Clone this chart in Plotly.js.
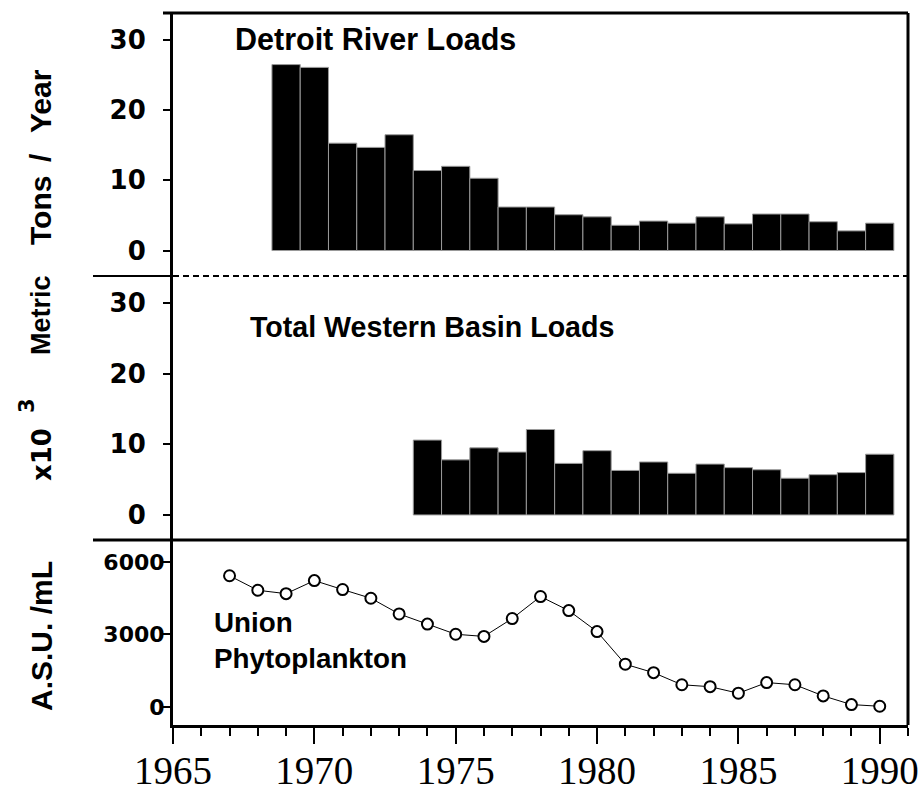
<!DOCTYPE html>
<html>
<head>
<meta charset="utf-8">
<script src="https://cdn.plot.ly/plotly-3.0.1.min.js"></script>
<style>html,body{margin:0;padding:0;background:#fff;}#chart{width:922px;height:794px;}</style>
</head>
<body>
<div id="chart"></div>
<script>
// ---- data ----
const detroitYears = [1969,1970,1971,1972,1973,1974,1975,1976,1977,1978,1979,1980,1981,1982,1983,1984,1985,1986,1987,1988,1989,1990];
const detroitLoads = [26.5,26.1,15.3,14.7,16.5,11.4,12.0,10.3,6.2,6.2,5.1,4.8,3.6,4.2,3.9,4.8,3.8,5.2,5.2,4.1,2.8,3.9];

const basinYears = [1974,1975,1976,1977,1978,1979,1980,1981,1982,1983,1984,1985,1986,1987,1988,1989,1990];
const basinLoads = [10.6,7.8,9.5,8.9,12.1,7.3,9.1,6.3,7.5,5.9,7.2,6.7,6.4,5.2,5.7,6.0,8.6];

const phytoYears = [1967,1968,1969,1970,1971,1972,1973,1974,1975,1976,1977,1978,1979,1980,1981,1982,1983,1984,1985,1986,1987,1988,1989,1990];
const phytoASU  = [5430,4830,4690,5230,4860,4500,3850,3430,3010,2920,3660,4570,3990,3120,1770,1420,920,840,570,1010,920,460,100,30];

const loadTicks = [0,10,20,30];
const asuTicks = [0,3000,6000];
const yearTicks = [1965,1970,1975,1980,1985,1990];

// ---- geometry helpers (plot area in pixels) ----
const W = 922, H = 794;
const M = {l:173, r:14, t:13, b:69};
const PW = W - M.l - M.r, PH = H - M.t - M.b;
const px = x => (x - M.l) / PW;
const py = y => (H - M.b - y) / PH;

const traces = [
  {type:'bar', x:detroitYears, y:detroitLoads, width:1, xaxis:'x', yaxis:'y',
   marker:{color:'#000', line:{color:'#9a9a9a', width:1}}},
  {type:'bar', x:basinYears, y:basinLoads, width:1, xaxis:'x', yaxis:'y2',
   marker:{color:'#000', line:{color:'#9a9a9a', width:1}}},
  {type:'scatter', mode:'lines+markers', x:phytoYears, y:phytoASU, xaxis:'x', yaxis:'y3',
   line:{color:'#000', width:1},
   marker:{symbol:'circle', size:11, color:'#fff', line:{color:'#000', width:2}}}
];

const yCommon = {
  showline:true, linecolor:'#000', linewidth:3, ticks:'outside', ticklen:7, tickwidth:2,
  tickcolor:'#000', showgrid:false, zeroline:false, fixedrange:true
};
const bigTick = {family:'DejaVu Sans', size:26, color:'#000', weight:'bold'};
const smallTick = {family:'DejaVu Sans', size:22, color:'#000', weight:'bold'};
const tf = s => ({family:'Liberation Sans', size:s, color:'#000'});

function vlab(text, x, y, size, family) {
  return {xref:'paper', yref:'paper', x:px(x), y:py(y), xanchor:'center', yanchor:'middle', showarrow:false,
          textangle:-90, text:'<b>' + text + '</b>', font:{family:family || 'Liberation Sans', size:size, color:'#000'}};
}

const layout = {
  width:W, height:H, margin:M, showlegend:false, bargap:0,
  paper_bgcolor:'#fff', plot_bgcolor:'#fff',
  xaxis:{anchor:'y3', range:[1965,1991], tickmode:'array', tickvals:yearTicks, ticktext:yearTicks.map(String),
         showline:true, linecolor:'#000', linewidth:3, ticks:'outside', ticklen:16, tickwidth:2, tickcolor:'#000',
         minor:{dtick:1, tick0:1965, ticks:'outside', ticklen:8, tickwidth:2, tickcolor:'#000'},
         showgrid:false, zeroline:false,
         tickfont:{family:'Liberation Serif', size:39, color:'#000'}, ticklabelstandoff:-7},
  yaxis:Object.assign({}, yCommon, {domain:[py(276), 1], range:[-3.63, 33.85], tickvals:loadTicks, tickfont:bigTick, ticklabelstandoff:12}),
  yaxis2:Object.assign({}, yCommon, {domain:[py(540), py(276)], range:[-3.55, 33.84], tickvals:loadTicks, tickfont:bigTick, ticklabelstandoff:12}),
  yaxis3:Object.assign({}, yCommon, {domain:[0, py(540)], range:[-745, 6910], tickvals:asuTicks, tickfont:smallTick, ticklabelstandoff:-6}),
  shapes:[
    {type:'line', xref:'paper', yref:'paper', x0:px(163), x1:1, y0:1, y1:1, line:{color:'#000', width:3}},
    {type:'line', xref:'paper', yref:'paper', x0:1, x1:1, y0:0, y1:1, line:{color:'#000', width:3}},
    {type:'line', xref:'paper', yref:'paper', x0:px(93), x1:0, y0:py(276), y1:py(276), line:{color:'#000', width:2}},
    {type:'line', xref:'paper', yref:'paper', x0:0, x1:1, y0:py(276), y1:py(276), line:{color:'#000', width:2, dash:'6px,4px'}},
    {type:'line', xref:'paper', yref:'paper', x0:px(93), x1:1, y0:py(540), y1:py(540), line:{color:'#000', width:3}}
  ],
  annotations:[
    {xref:'paper', yref:'paper', x:px(233), y:py(39), xanchor:'left', yanchor:'middle', showarrow:false,
     text:'<b>Detroit River Loads</b>', font:tf(30.5)},
    {xref:'paper', yref:'paper', x:px(248), y:py(327), xanchor:'left', yanchor:'middle', showarrow:false,
     text:'<b>Total Western Basin Loads</b>', font:tf(28.6)},
    {xref:'paper', yref:'paper', x:px(212), y:py(640), xanchor:'left', yanchor:'middle', showarrow:false, align:'left',
     text:'<b>Union<br>Phytoplankton</b>', font:tf(27.8)},
    vlab('Year', 41, 101, 30),
    vlab('/', 41, 158, 30),
    vlab('Tons', 41, 211, 30),
    vlab('Metric', 41, 315, 27),
    vlab('x10', 42, 455, 26, 'DejaVu Sans'),
    vlab('3', 27, 406, 21, 'DejaVu Sans'),
    vlab('A.S.U. /mL', 41, 636, 30)
  ]
};

Plotly.newPlot('chart', traces, layout, {staticPlot:true, displayModeBar:false});
</script>
</body>
</html>
